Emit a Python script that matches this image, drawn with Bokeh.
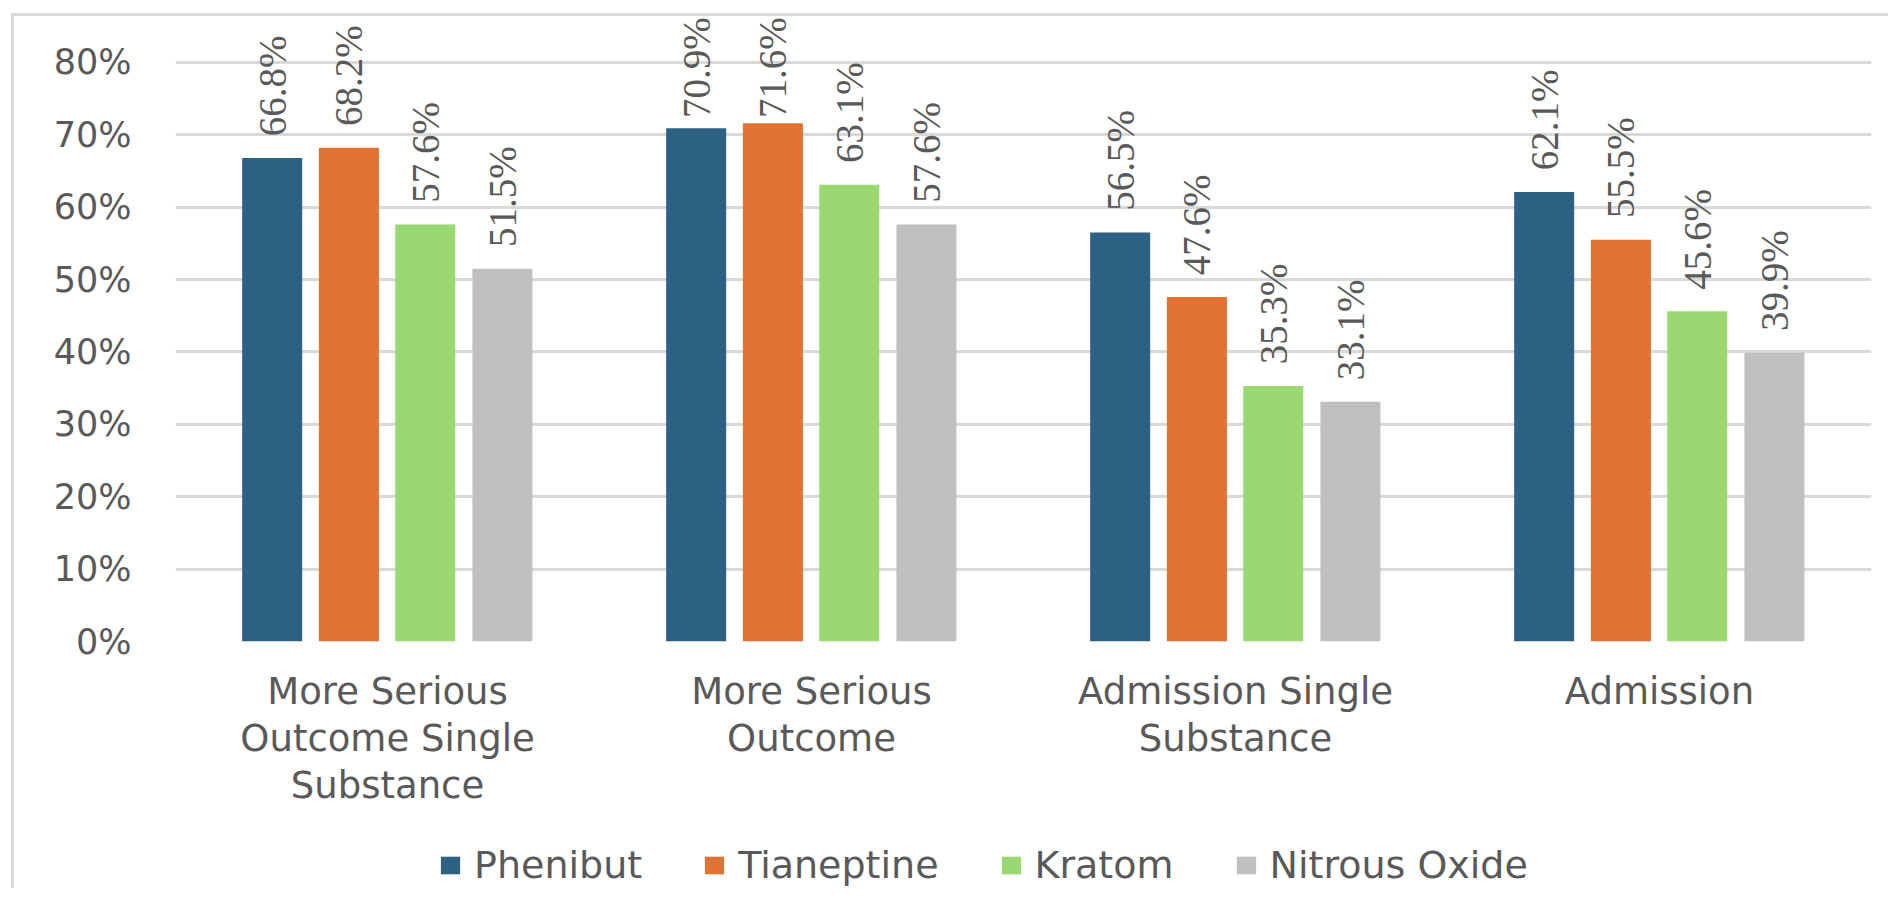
import math
from bokeh.plotting import figure
from bokeh.layouts import column
from bokeh.models import (ColumnDataSource, FixedTicker, Legend, LegendItem,
                          Range1d, PrintfTickFormatter)
from bokeh.core.properties import value
from bokeh.embed import file_html
from bokeh.resources import INLINE

# ---------------- data ----------------
categories = ["More Serious\nOutcome Single\nSubstance",
              "More Serious\nOutcome",
              "Admission Single\nSubstance",
              "Admission"]
series_names = ["Phenibut", "Tianeptine", "Kratom", "Nitrous Oxide"]
phenibut = [66.8, 70.9, 56.5, 62.1]
tianeptine = [68.2, 71.6, 47.6, 55.5]
kratom = [57.6, 63.1, 35.3, 45.6]
nitrous_oxide = [51.5, 57.6, 33.1, 39.9]
y_ticks = [0, 10, 20, 30, 40, 50, 60, 70, 80]

# ---------------- styles ----------------
colors = ["#2C6184", "#E07334", "#9AD872", "#BFBFBF"]
offsets = [-0.272, -0.091, 0.089, 0.271]
bar_width = 0.1415
text_color = "#595959"
grid_color = "#D9D9D9"
label_font = value("Liberation Sans Narrow")
main_font = "DejaVu Sans"
border = "3px solid #D9D9D9"

# data-label placement (percent units)
label_gap = 3.0
label_top = 84.9
label_len = 12.6

p = figure(width=1877, height=805,
           x_range=Range1d(0, len(categories)),
           y_range=Range1d(0, 86.33),
           output_backend="svg", toolbar_location=None,
           min_border_left=161, min_border_right=20,
           min_border_top=0, min_border_bottom=180)
p.outline_line_color = None
p.background_fill_color = "white"
p.border_fill_color = "white"

# y axis
p.yaxis.ticker = FixedTicker(ticks=y_ticks)
p.yaxis.formatter = PrintfTickFormatter(format="%d%%")
p.yaxis.axis_line_color = None
p.yaxis.major_tick_line_color = None
p.yaxis.minor_tick_line_color = None
p.yaxis.major_tick_out = 0
p.yaxis.major_label_standoff = 44
p.yaxis.major_label_text_font = main_font
p.yaxis.major_label_text_font_size = "35px"
p.yaxis.major_label_text_color = text_color

# x axis
cat_ticks = [i + 0.5 for i in range(len(categories))]
p.xaxis.ticker = FixedTicker(ticks=cat_ticks)
p.xaxis.major_label_overrides = {t: c for t, c in zip(cat_ticks, categories)}
p.xaxis.axis_line_color = None
p.xaxis.major_tick_line_color = None
p.xaxis.minor_tick_line_color = None
p.xaxis.major_tick_out = 0
p.xaxis.major_label_standoff = 28
p.xaxis.major_label_text_font = main_font
p.xaxis.major_label_text_font_size = "37px"
p.xaxis.major_label_text_color = text_color
p.xaxis.major_label_text_line_height = 1.10

p.xgrid.visible = False
p.ygrid.grid_line_color = grid_color
p.ygrid.grid_line_width = 3

# legend strip (separate figure so the legend is not clipped)
lf = figure(width=1877, height=70, x_range=Range1d(0, 1), y_range=Range1d(0, 1),
            output_backend="svg", toolbar_location=None,
            x_axis_location=None, y_axis_location=None,
            min_border_left=161, min_border_right=20,
            min_border_top=0, min_border_bottom=0)
lf.outline_line_color = None
lf.grid.visible = False
lf.background_fill_color = "white"
lf.border_fill_color = "white"

items = []
all_series = [phenibut, tianeptine, kratom, nitrous_oxide]
for name, vals, col, off in zip(series_names, all_series, colors, offsets):
    xs = [i + 0.5 + off for i in range(len(categories))]
    ly = [min(v + label_gap, label_top - label_len) for v in vals]
    src = ColumnDataSource(dict(x=xs, top=vals, ly=ly,
                                lab=[f"{v:.1f}%" for v in vals]))
    p.vbar(x="x", top="top", width=bar_width, source=src,
           fill_color=col, line_color=None)
    p.text(x="x", y="ly", text="lab", source=src, angle=math.pi / 2,
           text_align="left", text_baseline="middle",
           text_font=label_font, text_font_size="39px",
           text_color=text_color)
    # legend key swatch: a glyph kept outside the strip's visible range
    key = lf.vbar(x=[-5], top=[-5], bottom=[-6], width=0.1,
                  fill_color=col, line_color=None)
    items.append(LegendItem(label=name, renderers=[key]))

legend = Legend(items=items, orientation="horizontal",
                location=(263, 1), glyph_width=24, glyph_height=22,
                label_standoff=12, spacing=60, padding=0, margin=0,
                border_line_color=None, background_fill_alpha=0,
                label_text_font=main_font, label_text_font_size="38px",
                label_text_color=text_color)
lf.add_layout(legend)

p.styles = {"margin-left": "11px", "margin-top": "13px",
            "border-top": border, "border-left": border}
lf.styles = {"margin-left": "11px", "border-left": border}

layout = column(p, lf, spacing=0)
open("out.html", "w").write(file_html(layout, INLINE))
